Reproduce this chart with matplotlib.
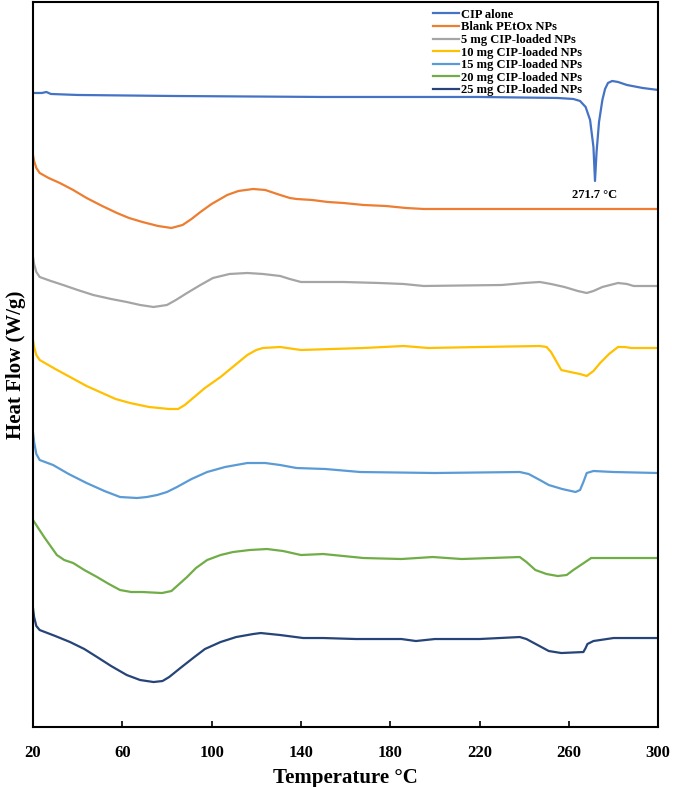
import numpy as np
import matplotlib
matplotlib.use("Agg")
import matplotlib.pyplot as plt

# DSC thermograms, heat flow in arbitrary stacked units (no y scale on the original)
#------------------------------
labels = ["CIP alone", "Blank PEtOx NPs", "5 mg CIP-loaded NPs", "10 mg CIP-loaded NPs",
          "15 mg CIP-loaded NPs", "20 mg CIP-loaded NPs", "25 mg CIP-loaded NPs"]
colors = ["#4472C4", "#ED7D31", "#A5A5A5", "#FFC000", "#5B9BD5", "#70AD47", "#264478"]

t_cip = [20, 24, 26, 28, 40, 82, 150, 220, 255, 262, 265, 267.5, 269.5, 271, 271.7, 272.4, 273.5, 275, 276.2,
         277.5, 279.4, 282, 286, 293, 300]
hf_cip = [634, 634, 635, 633, 632, 631, 630, 630, 629, 628, 626, 620, 607, 580, 546, 575, 605, 627, 638,
          644, 646, 645, 642, 639, 637]

t_blank = [20, 20.5, 21.5, 23, 27, 32, 38, 44, 51, 57.6, 63, 69, 76, 82, 87, 91, 95, 100, 107, 112, 118.6,
           124, 130.7, 135, 138, 145, 152, 159, 168, 178, 187, 195, 250, 300]
hf_blank = [572, 566, 559, 554, 549, 544, 537, 529, 521, 514, 509, 505, 501, 499, 502, 508, 515, 523, 532, 536, 538,
            537, 532, 529, 528, 527, 525, 524, 522, 521, 519, 518, 518, 518]

t_5 = [20, 20.5, 21.5, 23, 28, 33.5, 40, 47, 55, 62, 68, 74, 80, 84, 89, 95, 100.6, 108, 116, 123, 130.7, 135,
       140, 150, 159, 175, 186, 195, 230, 240, 247, 252, 258, 264, 268, 271, 275, 282, 286, 289, 300]
hf_5 = [470, 463, 455, 450, 446, 442, 437, 432, 428, 425, 422, 420, 422, 427, 434, 442, 449, 453, 454, 453, 451, 448,
        445, 445, 445, 444, 443, 441, 442, 444, 445, 443, 440, 436, 434, 436, 440, 444, 443, 441, 441]

t_10 = [20, 20.5, 21.5, 23, 30, 36.6, 44, 51, 57, 63.5, 72, 81, 85, 88, 91.7, 97, 104, 110, 116, 120, 123,
        130.7, 140, 168, 186, 197, 220, 247, 250, 252, 256.6, 260.6, 265, 268, 271, 274, 278, 282, 285, 288, 300]
hf_10 = [387, 380, 372, 367, 358, 350, 341, 334, 328, 324, 320, 318, 318, 322, 329, 339, 350, 361, 372, 377, 379,
         380, 377, 379, 381, 379, 380, 381, 380, 375, 357, 355, 353, 351, 356, 364, 373, 380, 380, 379, 379]

t_15 = [20, 20.5, 21.5, 23, 29, 36, 44, 52, 59, 66.6, 71, 75.6, 80, 84.5, 91, 98, 106, 116, 124, 130.7, 138, 151,
        166.5, 200, 238, 242, 247, 251, 257, 263, 265, 266.5, 268, 271, 280, 300]
hf_15 = [295, 285, 273, 267, 262, 253, 244, 236, 230, 229, 230, 232, 235, 240, 248, 255, 260, 264, 264, 262, 259, 258,
         255, 254, 255, 253, 247, 242, 238, 235, 237, 245, 254, 256, 255, 254]

t_20 = [20, 25, 30.7, 34, 38, 43, 48.7, 54, 59, 64, 69, 77.8, 82, 85, 89, 93, 98, 104, 109.6, 117, 124.8, 132,
        140, 150, 168, 185, 199, 212, 238, 241, 245, 250, 255, 259, 262, 266, 270, 280, 300]
hf_20 = [207, 190, 172, 167, 164, 157, 150, 143, 137, 135, 135, 134, 136, 142, 150, 159, 167, 172, 175, 177, 178, 176,
         172, 173, 169, 168, 170, 168, 170, 165, 157, 153, 151, 152, 157, 163, 169, 169, 169]

t_25 = [20, 20.5, 21.5, 23, 30, 36.6, 43, 48.7, 55, 62, 68, 74, 78, 81, 86, 91.7, 97, 104, 111, 118.6, 122,
        130.7, 141, 150, 164.6, 185, 191.5, 200, 220, 238, 241, 246, 251, 256.6, 266.5, 267.5, 268.3, 271, 280, 300]
hf_25 = [119, 110, 101, 97, 91, 85, 78, 70, 61, 52, 47, 45, 46, 50, 59, 69, 78, 85, 90, 93, 94,
         92, 89, 89, 88, 88, 86, 88, 88, 90, 88, 82, 76, 74, 75, 79, 83, 86, 89, 89]

peak_T = 271.7
x_ticks = [20, 60, 100, 140, 180, 220, 260, 300]
#------------------------------

plt.rcParams['font.family'] = ['Liberation Serif', 'DejaVu Serif']
plt.rcParams['font.weight'] = 'bold'

fig = plt.figure(figsize=(6.73, 7.87), dpi=100)
ax = fig.add_axes([0.049, 0.0762, 0.929, 0.9213])

series = [(t_cip, hf_cip), (t_blank, hf_blank), (t_5, hf_5), (t_10, hf_10),
          (t_15, hf_15), (t_20, hf_20), (t_25, hf_25)]
for (t, hf), lab, col in zip(series, labels, colors):
    ax.plot(t, hf, color=col, lw=1.6, label=lab, solid_joinstyle='round')

ax.annotate("271.7 °C", xy=(peak_T, 546), xytext=(peak_T, 532), ha='center', va='center',
            fontsize=9, fontweight='bold')

ax.set_xlim(20, 300)
ax.set_ylim(0, 725)
ax.set_xticks(x_ticks)
ax.set_yticks([])
ax.tick_params(axis='x', direction='in', length=4, width=1.2, labelsize=12, pad=13)
for lbl in ax.get_xticklabels():
    lbl.set_fontweight('bold')
for sp in ax.spines.values():
    sp.set_linewidth(1.5)

ax.set_xlabel("Temperature °C", fontsize=15, fontweight='bold', labelpad=5)
ax.set_ylabel("Heat Flow (W/g)", fontsize=15, fontweight='bold', labelpad=5)

leg = ax.legend(loc='upper left', bbox_to_anchor=(0.628, 1.001), frameon=False, fontsize=9,
                labelspacing=0.05, handlelength=2.1, handletextpad=0.15, borderpad=0.1)
for txt in leg.get_texts():
    txt.set_fontweight('bold')

fig.savefig("out.png", dpi=100)
